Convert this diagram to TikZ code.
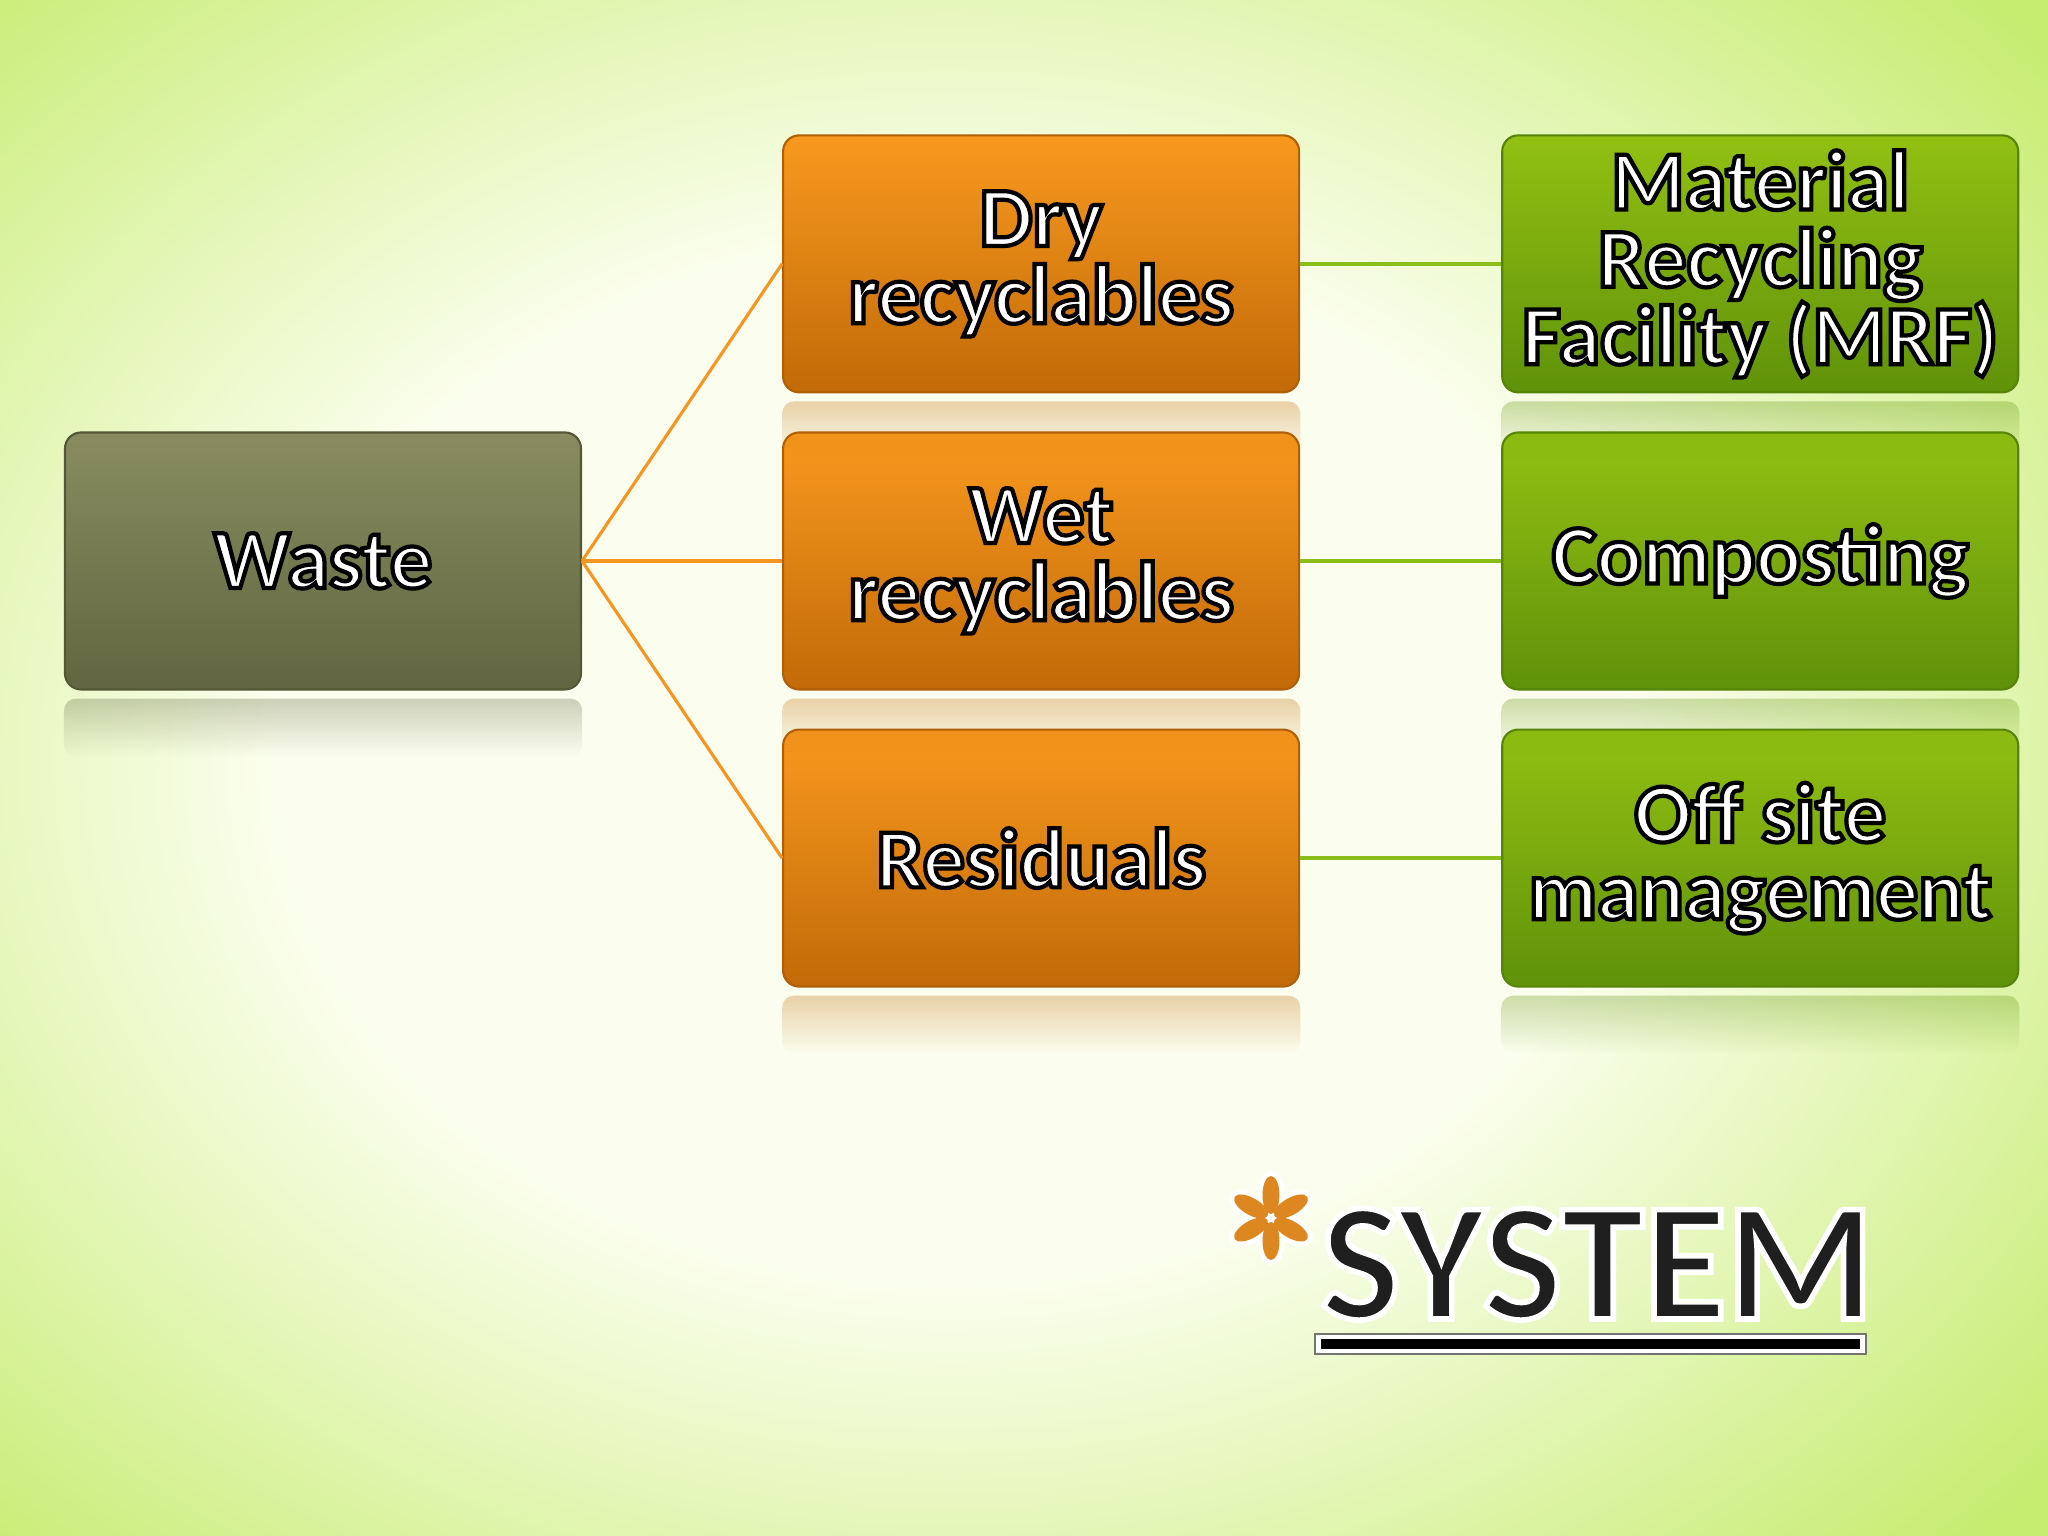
\documentclass[tikz,border=0pt]{standalone}
\usepackage{fontspec}
\setmainfont{Carlito}
\usepackage{tikz}
\usetikzlibrary{positioning,fadings}
\definecolor{bglime}{RGB}{198,236,112}
\definecolor{bgpale}{RGB}{251,254,238}
\definecolor{orangetop}{RGB}{248,153,30}
\definecolor{orangebot}{RGB}{194,106,8}
\definecolor{orangeline}{RGB}{245,150,35}
\definecolor{greentop}{RGB}{146,192,18}
\definecolor{greenbot}{RGB}{96,146,10}
\definecolor{greenline}{RGB}{140,190,25}
\definecolor{olivetop}{RGB}{136,140,96}
\definecolor{olivebot}{RGB}{98,102,64}
% outlined text: fill with the current colour, stroke with #1 at width #2
\newcommand{\stroked}[3]{\special{pdf:literal direct #2 w #1 RG 2 Tr}#3\special{pdf:literal direct 0 Tr}}
\newcommand{\ol}[1]{\stroked{0 0 0}{1.2}{#1}}
\pgfdeclareradialshading{bgglow}{\pgfpoint{0cm}{0cm}}{color(0bp)=(bgpale); color(14bp)=(bgpale); color(30bp)=(bglime); color(50bp)=(bglime)}
\tikzfading[name=bandfade, top color=transparent!100, middle color=transparent!20, bottom color=transparent!100]
\tikzset{
  box/.style     ={ rectangle, rounded corners=0.16cm, minimum width=5.16cm, minimum height=2.57cm,
                    inner sep=0pt, align=center, text=white, font=\bfseries\fontsize{24}{22}\selectfont, line width=0.6pt },
  source/.style  ={ box, top color=olivetop,  bottom color=olivebot,  draw=olivebot!85!black },
  stream/.style  ={ box, top color=orangetop, bottom color=orangebot, draw=orangebot!90!black },
  outlet/.style  ={ box, top color=greentop,  bottom color=greenbot,  draw=greenbot!90!black },
  s2s/.style={draw=orangeline, line width=0.9pt},
  s2o/.style={draw=greenline, line width=1.1pt},
  mirror/.style={fill opacity=0.3, path fading=south, rounded corners=0.12cm}
}

\begin{document}
\begin{tikzpicture}

\useasboundingbox (0,0) rectangle (20.48,15.36);
\begin{scope}
\clip (0,0) rectangle (20.48,15.36);
\shade[shading=bgglow] (-2.5,-1.5) rectangle (21.5,17.0);
\fill[white, path fading=bandfade] (0,4.0) rectangle (20.48,5.3);
\fill[bglime, path fading=bandfade] (0,2.6) rectangle (20.48,4.0);
\end{scope}

\node[source] (waste) at (3.23,9.75) {\ol{Waste}};
\node[stream] (wet) [right=2.0cm of waste] {\ol{Wet}\\\ol{recyclables}};
\node[stream] (dry) [above=0.38cm of wet] {\ol{Dry}\\\ol{recyclables}};
\node[stream] (res) [below=0.38cm of wet] {\ol{Residuals}};
\node[outlet] (comp) [right=2.01cm of wet] {\ol{Composting}};
\node[outlet] (mrf) [right=2.01cm of dry] {\ol{Material}\\\ol{Recycling}\\\ol{Facility (MRF)}};
\node[outlet] (offsite) [right=2.01cm of res] {\ol{Off site}\\\ol{management}};

\foreach \n/\c in {waste/olivebot,dry/orangebot,wet/orangebot,res/orangebot,mrf/greenbot,comp/greenbot,offsite/greenbot}
  \fill[\c, mirror] ([yshift=-0.08cm]\n.south west) rectangle ([yshift=-0.66cm]\n.south east);

\draw[s2s] (waste.east) -- (dry.west);
\draw[s2s] (waste.east) -- (wet.west);
\draw[s2s] (waste.east) -- (res.west);

\draw[s2o] (dry.east) -- (mrf.west);
\draw[s2o] (wet.east) -- (comp.west);
\draw[s2o] (res.east) -- (offsite.west);

% title
\foreach \a in {90,30,-30,-90,-150,150}
  \fill[white, draw=white, line width=2.8pt, shift={(12.71,3.18)}, rotate=\a] (0.23,0) ellipse (0.19 and 0.085);
\foreach \a in {90,30,-30,-90,-150,150}
  \fill[orangeline!90!black, shift={(12.71,3.18)}, rotate=\a] (0.23,0) ellipse (0.19 and 0.085);

\node[anchor=base west, inner sep=0pt, text=black!88, font=\bfseries\fontsize{48}{48}\selectfont] (systitle) at (13.2,2.17)
  {\stroked{1 1 1}{1.6}{SYSTEM}};
\fill[black!55] (13.14,1.81) rectangle (18.67,2.03);
\fill[white] (13.16,1.83) rectangle (18.65,2.01);
\fill[black] (13.21,1.87) rectangle (18.60,1.97);

\end{tikzpicture}
\end{document}
